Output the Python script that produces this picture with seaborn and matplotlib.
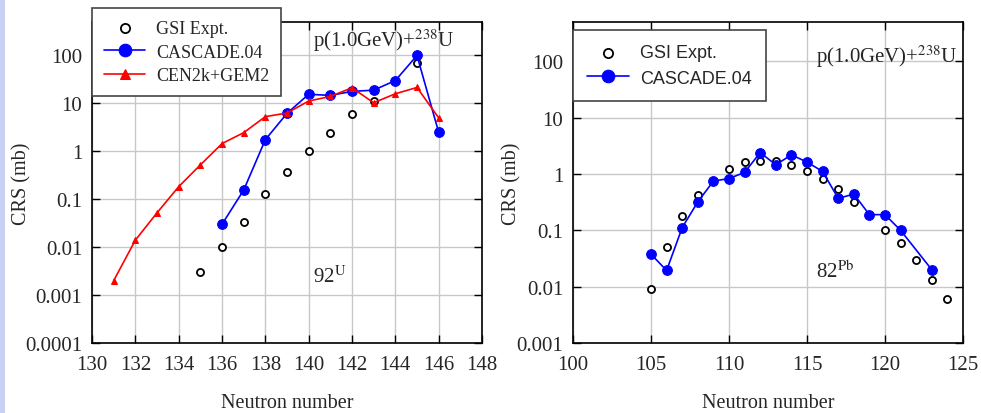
import numpy as np
import pandas as pd
import matplotlib
matplotlib.use("Agg")
import matplotlib.pyplot as plt
from matplotlib.patches import Rectangle
import seaborn as sns

# U isotopes (Z=92), p(1.0GeV)+238U
u_gsi_n = [135, 136, 137, 138, 139, 140, 141, 142, 143, 145]
u_gsi_crs = [0.003, 0.01, 0.033, 0.13, 0.37, 1.0, 2.4, 6.0, 11.5, 71]
u_cas_n = [136, 137, 138, 139, 140, 141, 142, 143, 144, 145, 146]
u_cas_crs = [0.03, 0.155, 1.75, 6.2, 15.5, 14.7, 17.8, 18.9, 30, 100, 2.5]
u_cen_n = [131, 132, 133, 134, 135, 136, 137, 138, 139, 140, 141, 142, 143, 144, 145, 146]
u_cen_crs = [0.002, 0.014, 0.052, 0.183, 0.52, 1.45, 2.45, 5.3, 6.3, 11.2, 14.0, 21.2, 10.3, 15.9, 21.5, 5.0]

# Pb isotopes (Z=82)
pb_gsi_n = [105, 106, 107, 108, 110, 111, 112, 113, 114, 115, 116, 117, 118, 120, 121, 122, 123, 124]
pb_gsi_crs = [0.009, 0.051, 0.179, 0.43, 1.22, 1.63, 1.72, 1.7, 1.44, 1.13, 0.80, 0.55, 0.325,
              0.1, 0.06, 0.030, 0.0129, 0.0061]
pb_cas_n = [105, 106, 107, 108, 109, 110, 111, 112, 113, 114, 115, 116, 117, 118, 119, 120, 121, 123]
pb_cas_crs = [0.0377, 0.0194, 0.112, 0.32, 0.75, 0.83, 1.07, 2.4, 1.46, 2.19, 1.63, 1.11,
              0.37, 0.44, 0.19, 0.19, 0.1, 0.02]

u_xticks = list(range(130, 149, 2))
pb_xticks = list(range(100, 126, 5))
u_yticks = [1e-4, 1e-3, 1e-2, 1e-1, 1, 10, 100]
u_ylabels = ["0.0001", "0.001", "0.01", "0.1", "1", "10", "100"]
pb_yticks = [1e-3, 1e-2, 1e-1, 1, 10, 100]
pb_ylabels = ["0.001", "0.01", "0.1", "1", "10", "100"]

sns.set_style("whitegrid")
plt.rcParams['font.family'] = ['Liberation Serif', 'DejaVu Serif']
plt.rcParams['mathtext.fontset'] = 'stix'

fig = plt.figure(figsize=(9.81, 4.14), dpi=100)
fig.patches.append(Rectangle((0, 0), 5 / 981, 1, transform=fig.transFigure,
                             facecolor='#c9d0f2', edgecolor='none', zorder=0))

ax1 = fig.add_axes([92 / 981, 70 / 414, 390 / 981, 321 / 414])
ax2 = fig.add_axes([573 / 981, 70 / 414, 390 / 981, 321 / 414])


def style_axes(ax, xticks, yticks, ylabels, xlim, ylim):
    ax.set_yscale('log')
    ax.set_xlim(*xlim)
    ax.set_ylim(*ylim)
    ax.set_xticks(xticks)
    ax.set_xticklabels([str(t) for t in xticks])
    ax.set_yticks(yticks)
    ax.set_yticklabels(ylabels)
    ax.yaxis.set_minor_locator(matplotlib.ticker.NullLocator())
    ax.grid(True, color='#c8c8c8', linewidth=1.0)
    for s in ax.spines.values():
        s.set_color('black')
        s.set_linewidth(1.2)
    ax.tick_params(direction='in', length=6, width=1.0, color='black',
                   top=True, right=True, bottom=True, left=True,
                   labelsize=15, pad=7)
    ax.tick_params(axis='x', pad=9)
    ax.set_xlabel("Neutron number", fontsize=14.5, labelpad=13)
    ax.set_ylabel("CRS (mb)", fontsize=14.5)
    ax.set_facecolor('white')


# left panel: U
sns.scatterplot(x=u_gsi_n, y=u_gsi_crs, ax=ax1, marker='o', s=26, facecolor='white',
                edgecolor='black', linewidth=1.3, label='GSI Expt.', zorder=3)
sns.lineplot(x=u_cas_n, y=u_cas_crs, ax=ax1, color='blue', marker='o', markersize=7,
             markeredgecolor='blue', linewidth=1.2, label='CASCADE.04', zorder=4)
sns.lineplot(x=u_cen_n, y=u_cen_crs, ax=ax1, color='red', marker='^', markersize=5,
             markeredgecolor='red', linewidth=1.2, label='CEN2k+GEM2', zorder=4)
style_axes(ax1, u_xticks, u_yticks, u_ylabels, (130, 148), (1e-4, 500))
ax1.yaxis.set_label_coords(-0.154, 0.5)
ax1.text(0.567, 0.925, "p(1.0GeV)+$^{238}$U", transform=ax1.transAxes, fontsize=15)
ax1.text(0.567, 0.19, "92$^{\\mathrm{U}}$", transform=ax1.transAxes, fontsize=15)
leg1 = ax1.legend(loc='upper left', bbox_to_anchor=(92 / 981, 1 - 9 / 414),
                  bbox_transform=fig.transFigure, frameon=True, fancybox=False,
                  edgecolor='#444444', framealpha=1, fontsize=13, borderpad=0.65,
                  borderaxespad=0, handlelength=2.3, handletextpad=0.6,
                  labelspacing=0.38, markerscale=1.3)
leg1.get_frame().set_linewidth(1.2)
leg1.set_zorder(10)

# right panel: Pb
sns.scatterplot(x=pb_gsi_n, y=pb_gsi_crs, ax=ax2, marker='o', s=26, facecolor='white',
                edgecolor='black', linewidth=1.3, label='GSI Expt.', zorder=3)
sns.lineplot(x=pb_cas_n, y=pb_cas_crs, ax=ax2, color='blue', marker='o', markersize=7,
             markeredgecolor='blue', linewidth=1.2, label='CASCADE.04', zorder=4)
style_axes(ax2, pb_xticks, pb_yticks, pb_ylabels, (100, 125), (1e-3, 500))
ax2.yaxis.set_label_coords(-0.131, 0.5)
ax2.text(0.622, 0.875, "p(1.0GeV)+$^{238}$U", transform=ax2.transAxes, fontsize=15)
ax2.text(0.622, 0.205, "82$^{\\mathrm{Pb}}$", transform=ax2.transAxes, fontsize=15)
leg2 = ax2.legend(loc='upper left', bbox_to_anchor=(0.0, 1 - 8 / 321), frameon=True,
                  fancybox=False, edgecolor='#444444', framealpha=1,
                  borderpad=0.8, borderaxespad=0, handlelength=2.3, handletextpad=0.6,
                  labelspacing=0.45, markerscale=1.3,
                  prop={'family': 'Liberation Sans', 'size': 13})
leg2.get_frame().set_linewidth(1.2)

fig.savefig("out.png", dpi=100)
